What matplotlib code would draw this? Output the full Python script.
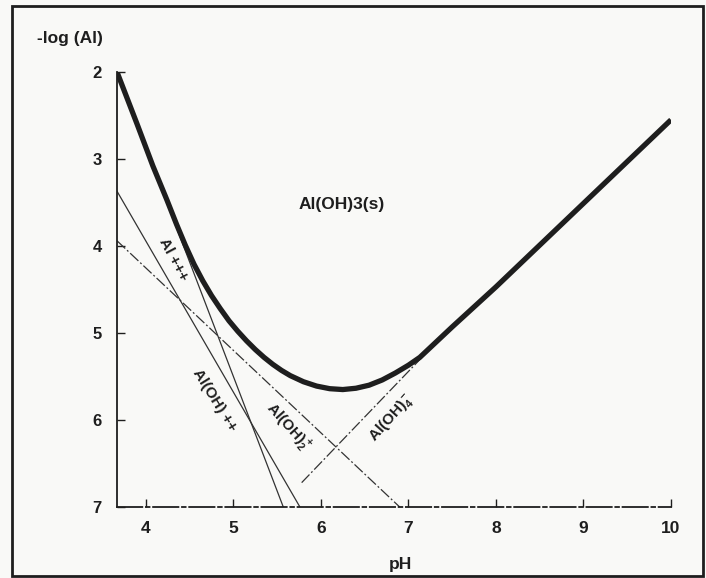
import matplotlib
matplotlib.use("Agg")
from matplotlib import pyplot as plt
from matplotlib.patches import Rectangle

plt.rcParams['font.family'] = ['Liberation Sans Narrow', 'Liberation Sans', 'DejaVu Sans']
plt.rcParams['font.weight'] = 'bold'
plt.rcParams['mathtext.fontset'] = 'custom'
plt.rcParams['mathtext.rm'] = 'Liberation Sans:bold'
plt.rcParams['mathtext.default'] = 'rm'

# total solubility of Al(OH)3(s)
ph_tot = [3.67, 3.9, 4.08, 4.24, 4.35, 4.45, 4.55, 4.65, 4.75, 4.85, 4.95, 5.05,
          5.15, 5.25, 5.35, 5.45, 5.55, 5.65, 5.8, 5.95, 6.1, 6.25, 6.4, 6.55,
          6.7, 6.85, 7.0, 7.13, 7.5, 8.0, 9.0, 10.0]
logal_tot = [2.0, 2.6, 3.08, 3.47, 3.75, 3.99, 4.21, 4.40, 4.57, 4.72, 4.86, 4.98,
             5.09, 5.19, 5.28, 5.36, 5.43, 5.49, 5.56, 5.61, 5.64, 5.65, 5.635, 5.6,
             5.54, 5.46, 5.37, 5.28, 4.93, 4.47, 3.51, 2.55]

# single species
ph_al3 = [3.67, 5.57]
logal_al3 = [2.0, 7.0]
ph_aloh = [3.67, 5.76]
logal_aloh = [3.37, 7.0]
ph_aloh2 = [3.67, 6.90]
logal_aloh2 = [3.94, 7.0]
ph_aloh4 = [5.78, 7.25]
logal_aloh4 = [6.72, 5.18]

xticks = [4, 5, 6, 7, 8, 9, 10]
yticks = [2, 3, 4, 5, 6, 7]

bg = '#f9f9f7'
ink = '#1e1e1e'

fig = plt.figure(figsize=(7.06, 5.78), dpi=100, facecolor=bg)
ax = fig.add_axes([117/706, 71/578, 554/706, 435/578], facecolor=bg)

ax.plot(ph_tot, logal_tot, color=ink, lw=3.8, solid_capstyle='butt',
        solid_joinstyle='round', zorder=5)
ax.plot(ph_al3, logal_al3, color='#333333', lw=0.9)
ax.plot(ph_aloh, logal_aloh, color='#333333', lw=0.9)
ax.plot(ph_aloh2, logal_aloh2, color='#333333', lw=0.9, ls=(0, (9, 2, 1.5, 2)))
ax.plot(ph_aloh4, logal_aloh4, color='#333333', lw=0.9, ls=(0, (9, 2, 1.5, 2)))

ax.set_xlim(3.67, 10)
ax.set_ylim(7, 2)
ax.set_xticks(xticks)
ax.set_yticks(yticks)
ax.tick_params(direction='in', length=6, width=1, colors=ink, labelsize=12)
ax.tick_params(axis='x', pad=10, labelsize=12.5)
ax.tick_params(axis='y', pad=11)
for s in ['top', 'right']:
    ax.spines[s].set_visible(False)
ax.spines['left'].set_linewidth(1.3)
ax.spines['left'].set_color(ink)
ax.spines['bottom'].set_linewidth(1.3)
ax.spines['bottom'].set_color(ink)
ax.spines['bottom'].set_linestyle((0, (14, 2, 2, 2)))

ax.text(6.24, 3.52, 'Al(OH)3(s)', fontsize=12.5, ha='center', va='center', color=ink)
ax.text(4.31, 4.15, 'Al +++', fontsize=11, rotation=-62, rotation_mode='anchor',
        ha='center', va='center', color=ink)
ax.text(4.79, 5.77, 'Al(OH) ++', fontsize=11, rotation=-58, rotation_mode='anchor',
        ha='center', va='center', color=ink)
ax.text(5.62, 6.09, r'Al(OH)$_2^+$', fontsize=11, rotation=-48, rotation_mode='anchor',
        ha='center', va='center', color=ink)
ax.text(6.81, 5.98, r'Al(OH)$_4^-$', fontsize=11, rotation=48, rotation_mode='anchor',
        ha='center', va='center', color=ink)

fig.text(70/706, 1 - 38/578, '-log (Al)', fontsize=12.5, ha='center', va='center', color=ink)
fig.text(400/706, 1 - 565/578, 'pH', fontsize=12.5, ha='center', va='center', color=ink)

# frame round the whole figure
fig.patches.append(Rectangle((12/706, 2/578), 691/706, 570/578, transform=fig.transFigure,
                             fill=False, ec=ink, lw=2))

fig.savefig('out.png', dpi=100, facecolor=bg)
